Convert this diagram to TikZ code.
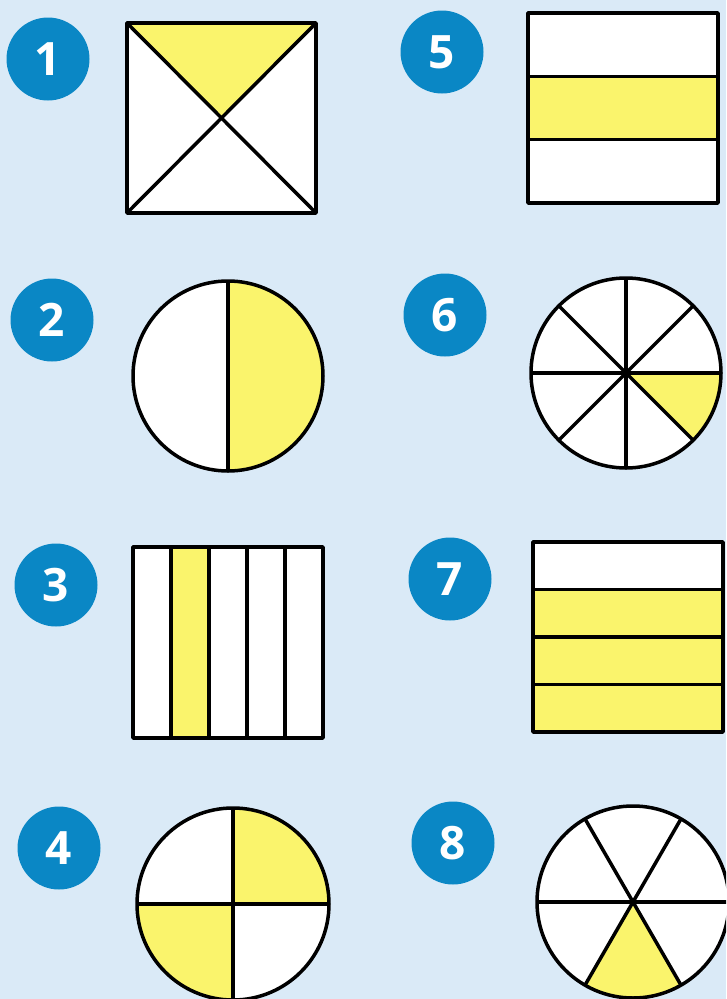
\documentclass[tikz,border=0pt]{standalone}
\usepackage{fontspec}
\setmainfont{Open Sans}
\definecolor{bg}{HTML}{DAEAF7}
\definecolor{badge}{HTML}{0A87C5}
\definecolor{fillY}{HTML}{FAF46C}
\begin{document}
\begin{tikzpicture}[x=1pt,y=-1pt,
  badgenode/.style={circle,fill=badge,minimum size=83pt,inner sep=0pt,text=white,font=\fontsize{46}{46}\selectfont\bfseries},
  part/.style={draw=black,line width=3.5pt,line join=round},
  yel/.style={fill=fillY},
  wht/.style={fill=white}]
\useasboundingbox (0,0) rectangle (726,999);
\clip (0,0) rectangle (726,999);
\fill[bg] (0,0) rectangle (726,999);

% badges
\node[badgenode] (b1) at (48,59) {1};
\node[badgenode] (b2) at (52,320) {2};
\node[badgenode] (b3) at (56,585) {3};
\node[badgenode] (b4) at (59,848) {4};
\node[badgenode] (b5) at (442,52) {5};
\node[badgenode] (b6) at (445,315) {6};
\node[badgenode] (b7) at (450,579) {7};
\node[badgenode] (b8) at (453,843) {8};

% 1: square with diagonals
\fill[wht] (127,23) rectangle (316,213);
\fill[yel] (127,23) -- (316,23) -- (221.5,118) -- cycle;
\draw[part] (127,23) -- (316,213) (316,23) -- (127,213);
\draw[part] (127,23) rectangle (316,213);

% 5: three horizontal bands
\fill[wht] (528,13) rectangle (718,203);
\fill[yel] (528,76.3) rectangle (718,139.7);
\draw[part] (528,76.3) -- (718,76.3) (528,139.7) -- (718,139.7);
\draw[part] (528,13) rectangle (718,203);

% 2: circle halves
\fill[wht] (228,376) circle[radius=95];
\fill[yel] (228,281) arc[start angle=-90,end angle=90,radius=95] -- cycle;
\draw[part] (228,281) -- (228,471);
\draw[part] (228,376) circle[radius=95];

% 6: circle eighths
\fill[wht] (626,373) circle[radius=95];
\fill[yel] (626,373) -- ++(0:95) arc[start angle=0,end angle=45,radius=95] -- cycle;
\foreach \a in {0,45,90,135} {\draw[part] (626,373) ++(\a:95) -- ++(\a+180:190);}
\draw[part] (626,373) circle[radius=95];

% 3: five vertical stripes
\fill[wht] (133,547) rectangle (323,738);
\fill[yel] (171,547) rectangle (209,738);
\foreach \x in {171,209,247,285} {\draw[part] (\x,547) -- (\x,738);}
\draw[part] (133,547) rectangle (323,738);

% 7: four horizontal bands
\fill[wht] (533,542) rectangle (723,732);
\fill[yel] (533,589.5) rectangle (723,732);
\foreach \y in {589.5,637,684.5} {\draw[part] (533,\y) -- (723,\y);}
\draw[part] (533,542) rectangle (723,732);

% 4: circle quarters
\fill[wht] (233,904) circle[radius=96];
\fill[yel] (233,904) -- ++(270:96) arc[start angle=270,end angle=360,radius=96] -- cycle;
\fill[yel] (233,904) -- ++(90:96) arc[start angle=90,end angle=180,radius=96] -- cycle;
\draw[part] (137,904) -- (329,904) (233,808) -- (233,1000);
\draw[part] (233,904) circle[radius=96];

% 8: circle sixths
\fill[wht] (633,902) circle[radius=96];
\fill[yel] (633,902) -- ++(60:96) arc[start angle=60,end angle=120,radius=96] -- cycle;
\foreach \a in {0,60,120} {\draw[part] (633,902) ++(\a:96) -- ++(\a+180:192);}
\draw[part] (633,902) circle[radius=96];
\end{tikzpicture}
\end{document}
